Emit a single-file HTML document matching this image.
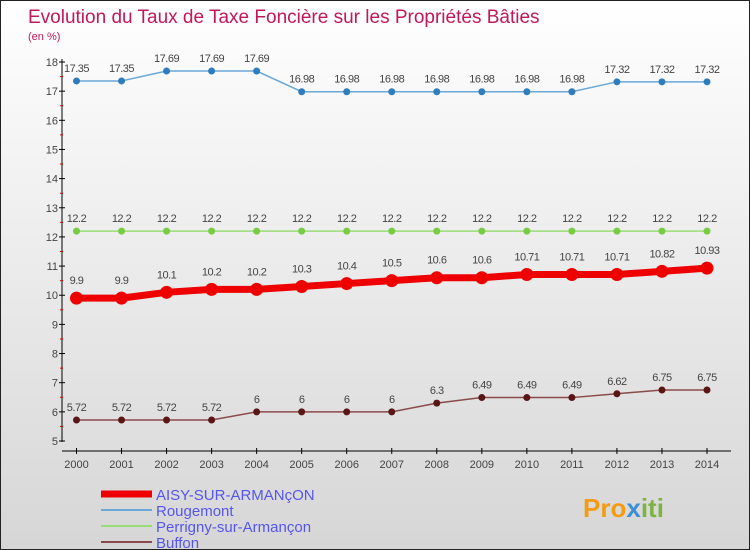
<!DOCTYPE html>
<html><head><meta charset="utf-8"><style>
body{margin:0;}
#wrap{width:748px;height:548px;border:1px solid #222;background:linear-gradient(#fff,#d6d6d6);position:relative;overflow:hidden;font-family:"Liberation Sans",sans-serif;}
</style></head><body>
<div id="wrap">
<svg id="chart" width="748" height="548">
<text x="27" y="22" font-size="19" fill="#c2185b">Evolution du Taux de Taxe Foncière sur les Propriétés Bâties</text>
<text x="27" y="39" font-size="11" fill="#c2185b">(en %)</text>
<g id="axes"></g><g id="series"></g><g id="legend"></g>
<text x="582" y="516" font-size="26" font-weight="bold" fill="#f39c12">Pro<tspan fill="#3a8fd6">x</tspan><tspan fill="#7cb342">iti</tspan></text>
</svg>
</div>
<script>
const years=[2000,2001,2002,2003,2004,2005,2006,2007,2008,2009,2010,2011,2012,2013,2014];
const yTicks=[5,6,7,8,9,10,11,12,13,14,15,16,17,18];
const aisy=[9.9,9.9,10.1,10.2,10.2,10.3,10.4,10.5,10.6,10.6,10.71,10.71,10.71,10.82,10.93];
const rougemont=[17.35,17.35,17.69,17.69,17.69,16.98,16.98,16.98,16.98,16.98,16.98,16.98,17.32,17.32,17.32];
const perrigny=[12.2,12.2,12.2,12.2,12.2,12.2,12.2,12.2,12.2,12.2,12.2,12.2,12.2,12.2,12.2];
const buffon=[5.72,5.72,5.72,5.72,6,6,6,6,6.3,6.49,6.49,6.49,6.62,6.75,6.75];
const seriesNames=["AISY-SUR-ARMANçON","Rougemont","Perrigny-sur-Armançon","Buffon"];
const NS="http://www.w3.org/2000/svg";
const xS=i=>75.5+i*(706-75.5)/(years.length-1);
const yS=v=>440-(v-5)*(440-61)/13;
function mk(p,tag,attrs){const e=document.createElementNS(NS,tag);for(const k in attrs)e.setAttribute(k,attrs[k]);p.appendChild(e);return e;}
const ax=document.getElementById('axes');
const yl=mk(ax,'line',{x1:61,y1:58,x2:61,y2:441,stroke:'#000'});


const xl=mk(ax,'line',{x1:61,y1:450,x2:730,y2:450,stroke:'#000'});


yTicks.forEach(v=>{
 mk(ax,'line',{x1:58,x2:64,y1:yS(v),y2:yS(v),stroke:'#000'});
 if(v<18)mk(ax,'line',{x1:59,x2:62,y1:yS(v+0.5),y2:yS(v+0.5),stroke:'#e00'});
 const t=mk(ax,'text',{x:57,y:yS(v)+4,'font-size':11,'text-anchor':'end',fill:'#444'});t.textContent=v;
 
 
});
years.forEach((y,i)=>{
 mk(ax,'line',{x1:xS(i),x2:xS(i),y1:447,y2:453,stroke:'#000'});
 const t=mk(ax,'text',{x:xS(i),y:467,'font-size':11,'text-anchor':'middle',fill:'#444'});t.textContent=y;
 
 
});
const sg=document.getElementById('series');
function draw(data,name,color,lw,r,dot,labelDy){
 const g=mk(sg,'g',{});
 
 
 const pl=mk(g,'polyline',{points:data.map((v,i)=>xS(i)+','+yS(v)).join(' '),fill:'none',stroke:color,'stroke-width':lw});
 
 
 data.forEach((v,i)=>{
  const c=mk(g,'circle',{cx:xS(i),cy:yS(v),r:r,fill:dot});
  
  
  const t=mk(g,'text',{x:xS(i),y:yS(v)+labelDy,'font-size':11,'text-anchor':'middle',fill:'#444','letter-spacing':'-0.5'});t.textContent=v;
  
  
 });
}
draw(rougemont,'rougemont','#6aa8d8',1.5,3.5,'#2f7dbd',-9);
draw(perrigny,'perrigny','#99dd77',1.5,3.5,'#77cc44',-9);
draw(buffon,'buffon','#8b4a4a',1.5,3.5,'#5a1515',-9);
draw(aisy,'aisy','#ee0000',7,6.5,'#ee0000',-14);
const lg=document.getElementById('legend');
const lc=[['#ee0000',7],['#6aa8d8',2],['#99dd77',2],['#8b4a4a',2]];
seriesNames.forEach((n,i)=>{
 const y=493+i*16;
 const l=mk(lg,'line',{x1:100,x2:151,y1:y,y2:y,stroke:lc[i][0],'stroke-width':lc[i][1]});
 
 
 const t=mk(lg,'text',{x:155,y:y+6,'font-size':15,fill:'#5555ee'});t.textContent=n;
 
 
});
</script>
</body></html>
